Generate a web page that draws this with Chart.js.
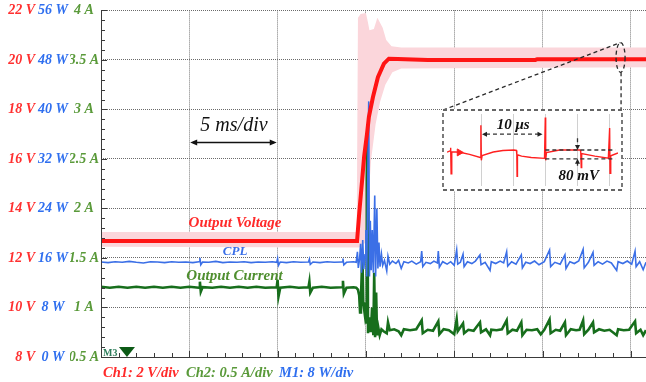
<!DOCTYPE html>
<html><head><meta charset="utf-8">
<script src="https://cdn.jsdelivr.net/npm/chart.js@4.4.1/dist/chart.umd.min.js"></script>
<style>
html,body{margin:0;padding:0;background:#fff;}
#wrap{position:relative;width:646px;height:382px;overflow:hidden;}
#main{position:absolute;left:0;top:0;}
#insetBox{position:absolute;}
#insetBox canvas{display:block;}
</style></head><body>
<div id="wrap"><canvas id="main" width="646" height="382"></canvas>
<div id="insetBox"><canvas id="inset"></canvas></div></div>
<script>
// ---------- tick labels ----------
const voltTickLabels  = ['8 V','10 V','12 V','14 V','16 V','18 V','20 V','22 V'];
const powerTickLabels = ['0 W','8 W','16 W','24 W','32 W','40 W','48 W','56 W'];
const currentTickLabels = ['0.5 A','1 A','1.5 A','2 A','2.5 A','3 A','3.5 A','4 A'];
const timeRangeMs = [0, 30.86];

// ---------- main traces: [time ms, value] ----------
const voltageTrace = [[0,12.69],[14.5,12.69],[14.62,13.8],[14.78,15.1],[14.9,16.1],[15.06,17.0],[15.17,17.7],[15.4,18.5],[15.68,19.3],[16.02,19.85],[16.3,20.05],[16.8,20.04],[18.5,20.0],[24.6,20.0],[24.7,20.03],[30.86,20.03]];
const voltageBandHigh = [[0,13.05],[14.48,13.05],[14.55,21.7],[14.7,21.85],[15.0,21.9],[15.12,21.5],[15.2,21.2],[15.45,21.25],[15.65,21.7],[15.95,21.3],[16.15,20.8],[16.45,20.55],[17.0,20.5],[30.86,20.5]];
const voltageBandLow = [[0,12.45],[14.62,12.42],[14.95,12.6],[15.1,14.0],[15.3,16.0],[15.55,17.4],[15.8,18.3],[16.1,19.0],[16.5,19.5],[17.0,19.65],[30.86,19.7]];

const cplTrace = [[0,15.35],[0.4,15.25],[0.8,15.4],[1.2,15.3],[1.6,15.45],[2.0,15.3],[2.4,15.2],[2.8,15.4],[3.2,15.35],[3.6,15.25],[4.0,15.4],[4.4,15.3],[4.8,15.35],[5.2,15.25],[5.55,15.4],[5.6,16.0],[5.65,14.9],[5.75,15.35],[6.1,15.3],[6.5,15.45],[6.9,15.25],[7.3,15.35],[7.7,15.3],[8.1,15.4],[8.5,15.25],[8.9,15.35],[9.3,15.3],[9.7,15.4],[9.95,15.3],[10.0,15.9],[10.05,14.8],[10.15,15.35],[10.5,15.25],[10.9,15.4],[11.3,15.3],[11.75,15.35],[11.8,15.8],[11.85,14.95],[12.0,15.35],[12.4,15.25],[12.8,15.4],[13.2,15.3],[13.65,15.35],[13.7,15.9],[13.75,14.9],[13.9,15.3],[14.3,15.4],
[14.45,15.3],[14.52,17.0],[14.57,14.4],[14.64,15.8],[14.7,18.3],[14.75,13.6],[14.82,18.9],[14.88,14.2],[14.95,16.5],[15.0,20.5],[15.05,13.0],[15.11,30.0],[15.16,41.3],[15.2,13.0],[15.25,22.0],[15.3,14.0],[15.36,20.5],[15.42,13.6],[15.5,26.1],[15.55,13.0],[15.62,24.0],[15.68,14.3],[15.74,18.5],[15.8,14.6],[15.88,16.6],[15.95,14.8],[16.05,15.6],
[16.18,13.9],[16.25,16.3],[16.35,15.0],[16.5,15.5],[16.7,15.1],[16.85,15.6],[17.0,14.3],[17.15,15.4],[17.4,15.2],[17.6,15.5],[17.85,15.0],[18.1,15.4],[18.16,17.1],[18.22,14.6],[18.4,15.3],[18.65,15.1],[18.85,15.5],[19.05,15.2],[19.1,17.1],[19.16,14.5],[19.35,15.4],[19.6,15.0],[19.8,15.4],[20.0,14.8],[20.14,17.3],[20.2,15.0],[20.35,15.3],[20.5,16.6],[20.56,14.6],[20.75,15.4],[21.0,15.1],[21.2,15.5],[21.46,16.5],[21.52,14.9],[21.75,15.3],[22.03,14.0],[22.1,15.4],[22.35,15.1],[22.6,15.5],[22.8,15.2],[22.97,17.0],[23.03,14.7],[23.25,15.4],[23.5,15.0],[23.8,16.5],[23.86,14.4],[24.05,15.3],[24.3,15.1],[24.55,15.5],[24.8,14.9],[25.1,15.4],[25.4,17.3],[25.46,14.6],[25.7,15.3],[26.0,15.0],[26.27,16.5],[26.33,14.3],[26.55,15.4],[26.8,15.1],[27.05,15.5],[27.3,17.4],[27.36,14.4],[27.6,15.3],[27.86,16.9],[27.92,14.8],[28.15,15.4],[28.4,15.0],[28.65,15.5],[28.9,15.2],[29.2,14.0],[29.28,15.4],[29.55,15.1],[29.8,15.5],[30.05,15.0],[30.24,17.1],[30.3,14.6],[30.5,15.4],[30.7,14.1],[30.86,15.3]];

const currentTrace = [[0,1.21],[0.5,1.2],[1.0,1.21],[1.5,1.2],[2.0,1.21],[2.5,1.2],[3.0,1.21],[3.5,1.2],[4.0,1.21],[4.5,1.2],[5.0,1.21],[5.55,1.2],[5.6,1.26],[5.65,1.16],[5.75,1.205],[6.3,1.2],[6.8,1.21],[7.3,1.2],[7.8,1.21],[8.3,1.2],[8.8,1.21],[9.3,1.2],[9.95,1.205],[10.0,1.28],[10.05,1.11],[10.15,1.2],[10.7,1.21],[11.2,1.2],[11.75,1.205],[11.8,1.26],[11.85,1.15],[12.0,1.2],[12.5,1.21],[13.0,1.2],[13.65,1.205],[13.7,1.27],[13.75,1.14],[13.9,1.2],[14.3,1.205],
[14.45,1.2],[14.55,1.18],[14.62,1.12],[14.67,0.95],[14.72,1.1],[14.8,1.55],[14.85,1.05],[14.93,0.94],[14.98,1.05],[15.02,0.85],[15.05,2.3],[15.08,2.77],[15.12,0.74],[15.2,0.9],[15.28,0.75],[15.35,1.0],[15.42,0.72],[15.47,1.35],[15.52,0.7],[15.58,1.15],[15.63,0.72],[15.7,0.8],[15.78,0.72],[15.88,0.78],[16.0,0.76],
[16.18,0.74],[16.25,0.85],[16.35,0.77],[16.6,0.78],[16.85,0.76],[17.0,0.72],[17.15,0.78],[17.5,0.77],[17.85,0.78],[18.16,0.87],[18.22,0.74],[18.5,0.775],[18.8,0.765],[19.1,0.86],[19.16,0.73],[19.4,0.78],[19.7,0.77],[20.0,0.73],[20.14,0.88],[20.2,0.76],[20.5,0.84],[20.56,0.74],[20.8,0.775],[21.1,0.765],[21.46,0.85],[21.52,0.75],[21.8,0.78],[22.03,0.72],[22.1,0.775],[22.4,0.77],[22.7,0.78],[22.97,0.87],[23.03,0.74],[23.3,0.775],[23.55,0.765],[23.8,0.85],[23.86,0.72],[24.1,0.775],[24.4,0.77],[24.7,0.78],[24.9,0.73],[25.1,0.775],[25.4,0.88],[25.46,0.74],[25.75,0.775],[26.0,0.765],[26.27,0.85],[26.33,0.72],[26.6,0.78],[26.9,0.77],[27.1,0.775],[27.3,0.87],[27.36,0.73],[27.6,0.775],[27.86,0.85],[27.92,0.75],[28.2,0.78],[28.5,0.765],[28.8,0.775],[29.2,0.72],[29.28,0.78],[29.6,0.77],[29.9,0.775],[30.24,0.86],[30.3,0.74],[30.55,0.775],[30.7,0.72],[30.86,0.77]];

// ---------- inset (zoomed ripple): [time us, ripple mV] ----------
const insetRangeUs = [-0.3, 26.3];
const insetRangeMv = [-248, 408];
const insetGridUs = [5, 10, 15, 20, 25];
const insetRipple = [[-0.3,60],[0.17,72],[0.27,100],[0.34,-136],[0.44,64],[1.7,60],[3.2,40],[4.88,12],[4.97,306],[5.04,-14],[5.17,30],[6.9,62],[8.4,76],[10.1,80],[10.5,76],[10.56,40],[10.6,-160],[10.66,36],[11.3,24],[12.8,12],[14.87,4],[14.99,376],[15.05,-14],[15.17,56],[17.2,80],[20.4,80],[20.5,66],[20.58,-80],[20.65,48],[22.7,24],[24.8,5],[25.0,280],[25.06,-133],[25.17,27],[26.3,53]];
const insetMarker = [[1.61,58]];

const INSET = {left:442, top:109, width:181, height:82};
const SERIF = '"Liberation Serif","Times New Roman",serif';
const pts = a => a.map(([x,y]) => ({x, y}));
const tickFont = {family: SERIF, size: 14, style: 'italic', weight: 'bold'};

function arrowHead(ctx, x, y, dx, dy, len, half) {
  const px = -dy, py = dx;
  ctx.beginPath();
  ctx.moveTo(x, y);
  ctx.lineTo(x - dx*len + px*half, y - dy*len + py*half);
  ctx.lineTo(x - dx*len - px*half, y - dy*len - py*half);
  ctx.closePath();
  ctx.fill();
}

const decor = {
  id: 'decor',
  afterDraw(chart) {
    const {ctx, chartArea: a} = chart;
    const x = chart.scales.x, yV = chart.scales.yV;
    ctx.save();
    ctx.strokeStyle = '#3a3a3a'; ctx.lineWidth = 1;
    ctx.beginPath();
    ctx.moveTo(a.left + 0.5, a.top); ctx.lineTo(a.left + 0.5, a.bottom + 0.5); ctx.lineTo(a.right, a.bottom + 0.5);
    for (let i = 0; i <= 35; i++) {
      const y = Math.round(yV.getPixelForValue(8 + i*0.4)) + 0.5;
      ctx.moveTo(a.left, y); ctx.lineTo(a.left + (i % 5 === 0 ? 6 : 4), y);
    }
    for (let i = 0; i <= 30; i++) {
      const xx = Math.round(x.getPixelForValue(i)) + 0.5;
      ctx.moveTo(xx, a.bottom); ctx.lineTo(xx, a.bottom - (i % 5 === 0 ? 6 : 4));
    }
    ctx.stroke();

    const txt = (s, t, v, color, font, align) => {
      ctx.fillStyle = color; ctx.font = font; ctx.textAlign = align || 'center'; ctx.textBaseline = 'middle';
      ctx.fillText(s, x.getPixelForValue(t), yV.getPixelForValue(v));
    };
    txt('Output Voltage', 7.59, 13.42, '#ff2a2a', 'italic bold 15px ' + SERIF);
    txt('CPL', 7.59, 12.24, '#3a6fe8', 'italic bold 13px ' + SERIF);
    txt('Output Current', 7.56, 11.27, '#4f8f2f', 'italic bold 15px ' + SERIF);
    txt('5 ms/div', 7.53, 17.36, '#111', 'italic 20px ' + SERIF);

    const ay = Math.round(yV.getPixelForValue(16.67)) + 0.5;
    const ax1 = x.getPixelForValue(5.05), ax2 = x.getPixelForValue(9.95);
    ctx.strokeStyle = '#111'; ctx.fillStyle = '#111'; ctx.lineWidth = 1.3;
    ctx.beginPath(); ctx.moveTo(ax1 + 3, ay); ctx.lineTo(ax2 - 3, ay); ctx.stroke();
    arrowHead(ctx, ax1, ay, -1, 0, 7, 3);
    arrowHead(ctx, ax2, ay, 1, 0, 7, 3);

    const ex = x.getPixelForValue(29.42), ey = yV.getPixelForValue(20.1);
    const ery = Math.abs(yV.getPixelForValue(20.7) - ey);
    ctx.strokeStyle = '#2a2a2a'; ctx.lineWidth = 1.3; ctx.setLineDash([4, 3]);
    ctx.beginPath(); ctx.ellipse(ex, ey, 4.5, ery, 0, 0, Math.PI*2); ctx.stroke();
    ctx.beginPath();
    ctx.moveTo(INSET.left + 1, INSET.top + 1); ctx.lineTo(ex, ey - ery);
    ctx.moveTo(ex + 0.5, ey + ery); ctx.lineTo(ex + 0.5, INSET.top + 1);
    ctx.stroke();
    ctx.setLineDash([]);

    const mx = x.getPixelForValue(1.47);
    ctx.fillStyle = '#0c5a16';
    ctx.beginPath(); ctx.moveTo(mx - 8, a.bottom - 10); ctx.lineTo(mx + 8, a.bottom - 10); ctx.lineTo(mx, a.bottom); ctx.closePath(); ctx.fill();
    ctx.fillStyle = '#2e7d5b'; ctx.font = 'bold 10px ' + SERIF; ctx.textAlign = 'left'; ctx.textBaseline = 'alphabetic';
    ctx.fillText('M3', a.left + 2, a.bottom - 1);

    ctx.font = 'italic bold 14.5px ' + SERIF; ctx.textBaseline = 'middle'; ctx.textAlign = 'left';
    const cy = a.bottom + 16;
    ctx.fillStyle = '#ff2a2a'; ctx.fillText('Ch1: 2 V/div', a.left + 2, cy);
    ctx.fillStyle = '#5a9a3a'; ctx.fillText('Ch2: 0.5 A/div', a.left + 85, cy);
    ctx.fillStyle = '#2f6fef'; ctx.fillText('M1: 8 W/div', a.left + 178, cy);
    ctx.restore();
  }
};

new Chart(document.getElementById('main'), {
  type: 'line',
  data: { datasets: [
    {data: pts(voltageTrace), yAxisID: 'yV', borderColor: '#ff1414', borderWidth: 4, pointRadius: 0, fill: false},
    {data: pts(cplTrace), yAxisID: 'yW', borderColor: '#3b6fe6', borderWidth: 1.6, pointRadius: 0, fill: false},
    {data: pts(currentTrace), yAxisID: 'yA', borderColor: '#176e1c', borderWidth: 2.6, pointRadius: 0, fill: false},
    {data: pts(voltageBandHigh), yAxisID: 'yV', borderWidth: 0, borderColor: 'rgba(0,0,0,0)', pointRadius: 0, fill: false},
    {data: pts(voltageBandLow), yAxisID: 'yV', borderWidth: 0, borderColor: 'rgba(0,0,0,0)', pointRadius: 0, fill: '-1', backgroundColor: '#fbd6db'}
  ]},
  options: {
    responsive: false, animation: false, devicePixelRatio: 1,
    layout: {padding: {top: 10, bottom: 25, left: 0, right: 0}},
    plugins: {legend: {display: false}, tooltip: {enabled: false}},
    scales: {
      x: {type: 'linear', min: timeRangeMs[0], max: timeRangeMs[1],
          ticks: {display: false, stepSize: 5, includeBounds: false},
          grid: {color: '#7a7a7a', drawTicks: false}, border: {display: false, dash: [1, 1]},
          afterFit(s) { s.height = 0; }},
      yV: {position: 'left', weight: 3, min: 8, max: 22,
           ticks: {stepSize: 2, callback: (v, i) => voltTickLabels[i], color: '#ff3030', font: tickFont, padding: 2, crossAlign: 'near'},
           grid: {color: '#6a6a6a', drawTicks: false}, border: {display: false, dash: [1, 1]},
           afterFit(s) { s.width = 37; }},
      yW: {position: 'left', weight: 2, min: 0, max: 56,
           ticks: {stepSize: 8, callback: (v, i) => powerTickLabels[i], color: '#2f6fef', font: tickFont, padding: 2, crossAlign: 'center'},
           grid: {display: false, drawTicks: false}, border: {display: false},
           afterFit(s) { s.width = 33; }},
      yA: {position: 'left', weight: 1, min: 0.5, max: 4,
           ticks: {stepSize: 0.5, callback: (v, i) => currentTickLabels[i], color: '#5a9a3a', font: tickFont, padding: 2, crossAlign: 'center'},
           grid: {display: false, drawTicks: false}, border: {display: false},
           afterFit(s) { s.width = 31; }}
    }
  },
  plugins: [decor]
});

const box = document.getElementById('insetBox');
box.style.left = INSET.left + 'px'; box.style.top = INSET.top + 'px';
const ic = document.getElementById('inset');
ic.width = INSET.width; ic.height = INSET.height;

const insetDecor = {
  id: 'insetDecor',
  beforeDraw(chart) {
    const ctx = chart.ctx;
    ctx.save(); ctx.fillStyle = '#fff'; ctx.fillRect(0, 0, chart.width, chart.height); ctx.restore();
  },
  afterDraw(chart) {
    const ctx = chart.ctx, x = chart.scales.x, y = chart.scales.y;
    const X = v => x.getPixelForValue(v), Y = v => y.getPixelForValue(v);
    ctx.save();
    ctx.strokeStyle = '#333'; ctx.fillStyle = '#222'; ctx.lineWidth = 1.3;
    ctx.setLineDash([4, 3]);
    ctx.strokeRect(1, 1, chart.width - 2, chart.height - 2);
    ctx.beginPath();
    ctx.moveTo(X(5.14) + 4, Y(224)); ctx.lineTo(X(14.56) - 4, Y(224));
    ctx.moveTo(X(15.0), Y(80)); ctx.lineTo(X(25.9), Y(80));
    ctx.moveTo(X(15.0), Y(0)); ctx.lineTo(X(25.9), Y(0));
    ctx.moveTo(X(20.0), Y(186)); ctx.lineTo(X(20.0), Y(80) - 4);
    ctx.moveTo(X(20.0), Y(-64)); ctx.lineTo(X(20.0), Y(0) + 4);
    ctx.stroke();
    ctx.setLineDash([]);
    arrowHead(ctx, X(5.14), Y(224), -1, 0, 5, 2.5);
    arrowHead(ctx, X(14.56), Y(224), 1, 0, 5, 2.5);
    arrowHead(ctx, X(20.0), Y(80), 0, 1, 5, 2.5);
    arrowHead(ctx, X(20.0), Y(0), 0, -1, 5, 2.5);
    ctx.fillStyle = '#111'; ctx.font = 'italic bold 15px ' + SERIF; ctx.textAlign = 'center'; ctx.textBaseline = 'middle';
    ctx.fillText('10 \u03bcs', X(9.99), Y(304));
    ctx.fillText('80 mV', X(20.2), Y(-160));
    ctx.restore();
  }
};

new Chart(ic, {
  type: 'line',
  data: { datasets: [
    {data: pts(insetMarker), showLine: false, pointStyle: 'triangle', rotation: 90, pointRadius: 4, backgroundColor: '#ff2020', borderColor: '#ff2020', borderWidth: 1},
    {data: pts(insetRipple), borderColor: '#ff2020', borderWidth: 1.4, pointRadius: 0, fill: false}
  ]},
  options: {
    responsive: false, animation: false, devicePixelRatio: 1,
    layout: {padding: 0},
    plugins: {legend: {display: false}, tooltip: {enabled: false}},
    scales: {
      x: {type: 'linear', min: insetRangeUs[0], max: insetRangeUs[1],
          ticks: {display: false},
          afterBuildTicks(s) { s.ticks = insetGridUs.map(v => ({value: v})); },
          grid: {color: '#d0d0d0', drawTicks: false}, border: {display: false},
          afterFit(s) { s.height = 0; }},
      y: {min: insetRangeMv[0], max: insetRangeMv[1], display: false}
    }
  },
  plugins: [insetDecor]
});
</script>
</body></html>
